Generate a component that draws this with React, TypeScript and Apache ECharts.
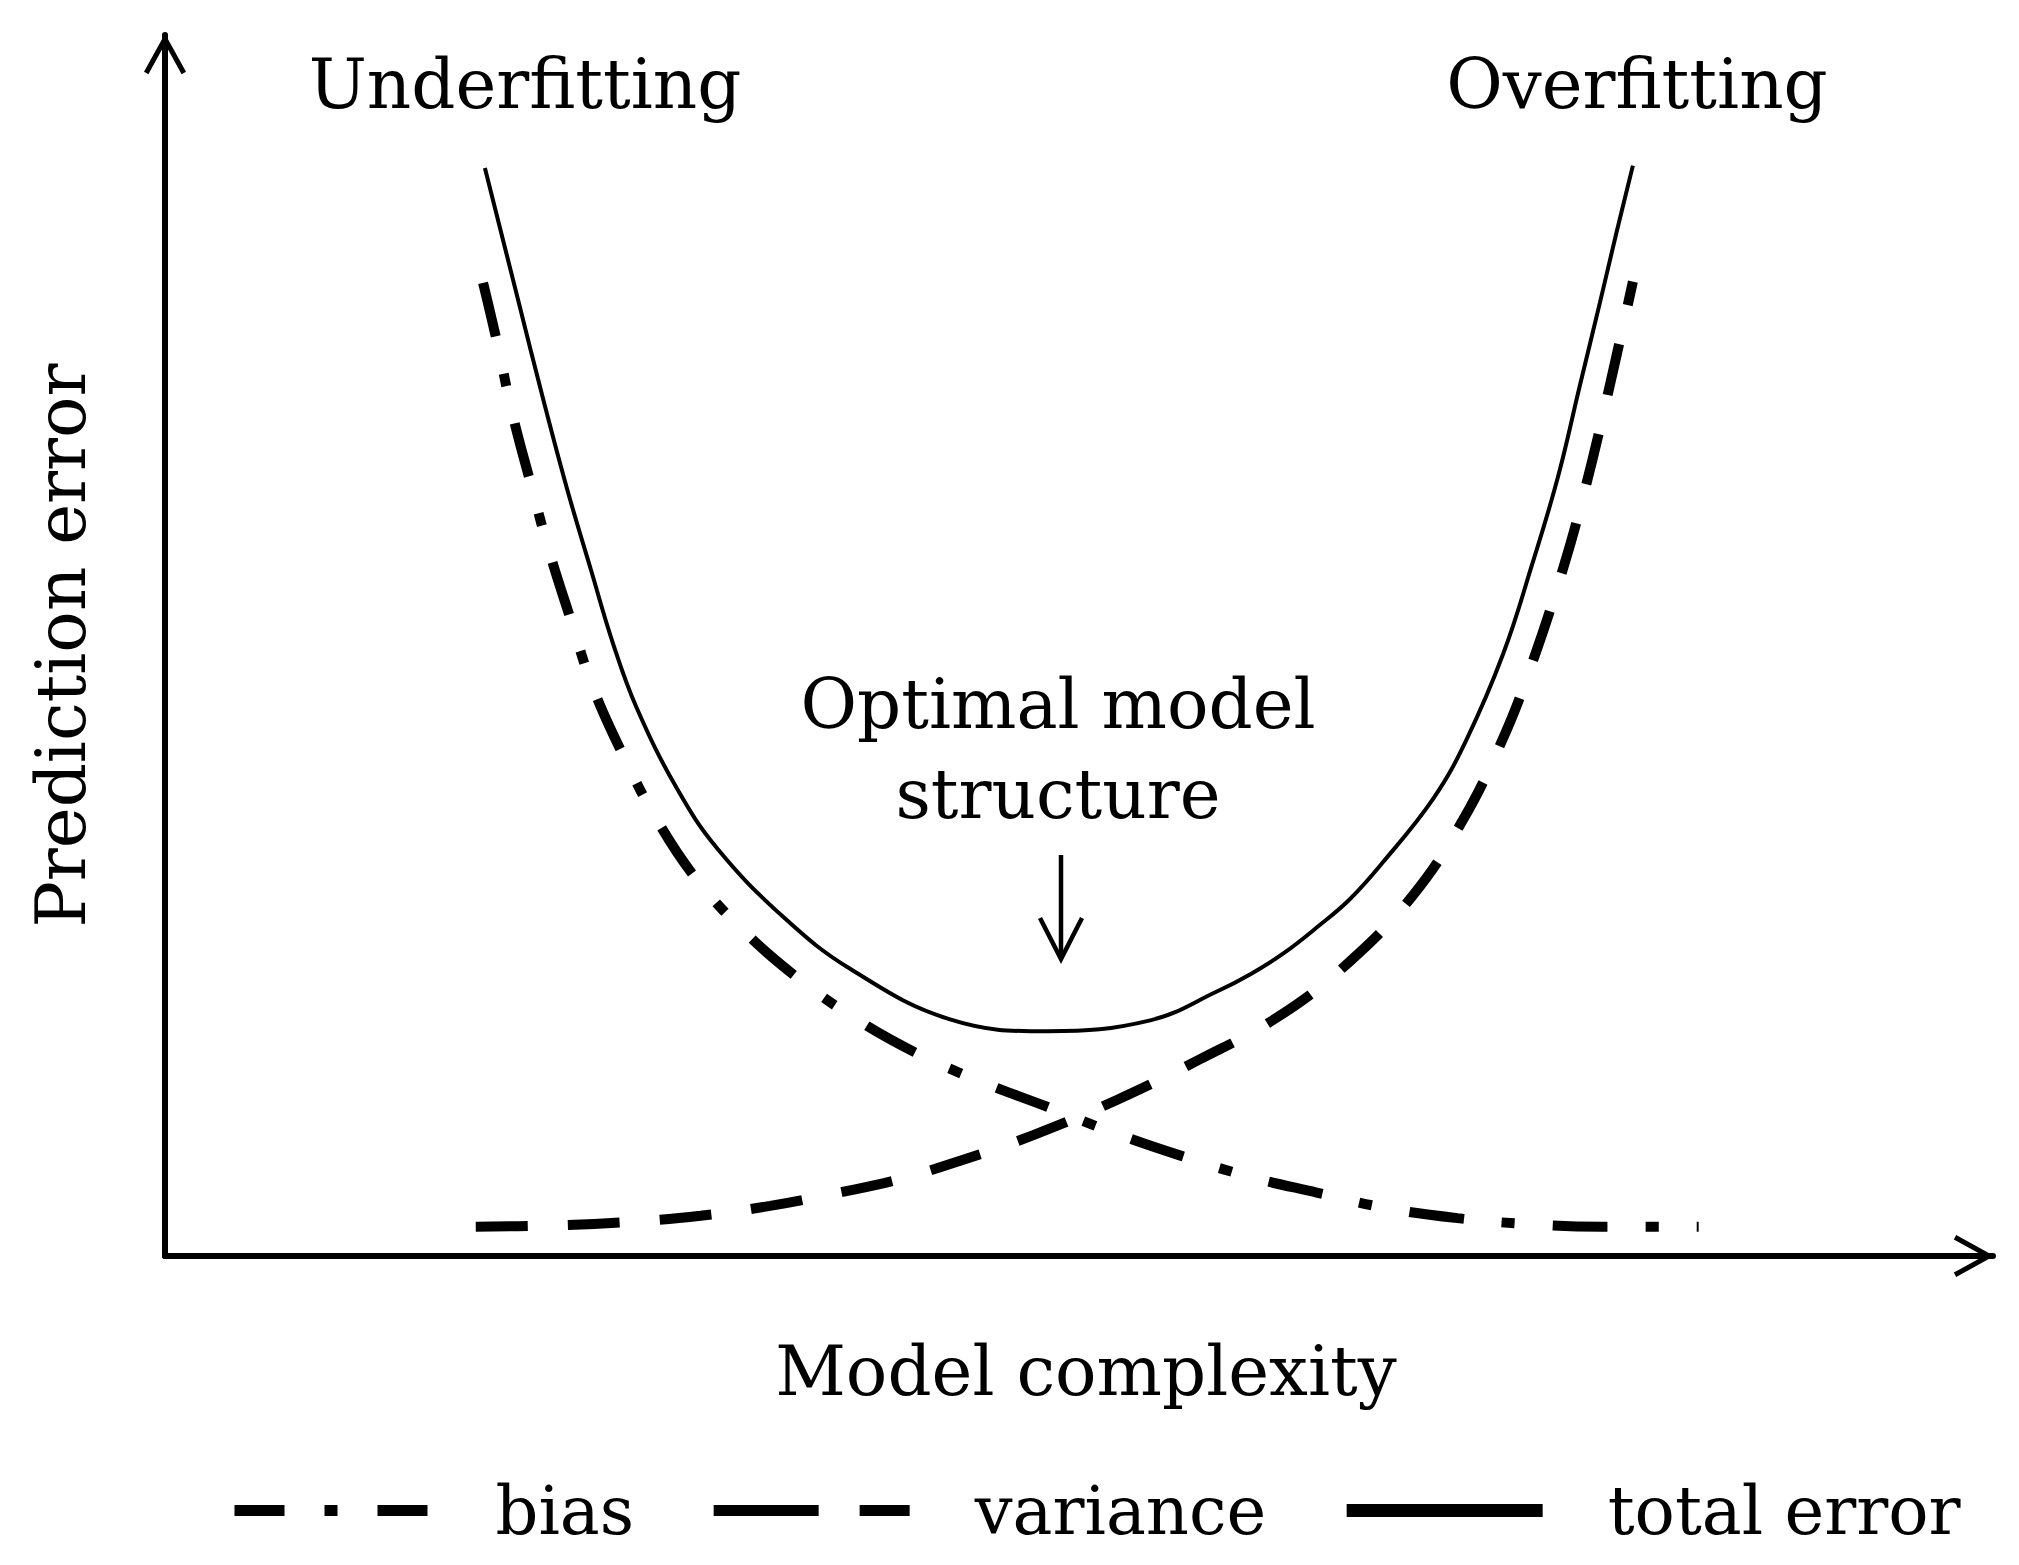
import React, { useEffect, useRef } from "react";
import * as echarts from "echarts";

// ---- data (model complexity 0..100, prediction error 0..100) ----
const totalErrorPoints: [number, number][] = [
  [17.5, 89.1], [19.3, 78.4], [20.7, 70.1], [22.0, 62.8], [23.3, 56.2], [24.5, 50.2],
  [25.8, 44.9], [28.0, 38.3], [30.2, 33.4], [33.8, 27.8], [37.5, 23.5], [42.9, 19.4],
  [48.3, 18.4], [53.9, 19.3], [57.6, 21.7], [59.4, 23.1], [61.2, 24.8], [63.0, 26.9],
  [64.8, 29.2], [66.6, 32.2], [69.4, 37.5], [71.2, 42.3], [73.2, 49.3], [74.8, 56.7],
  [76.2, 63.8], [77.4, 71.3], [78.5, 78.1], [79.4, 83.8], [80.3, 89.3],
];
const biasPoints: [number, number][] = [
  [17.4, 79.7], [18.2, 74.6], [19.0, 69.0], [20.0, 63.3], [21.0, 57.8], [22.2, 52.1],
  [23.4, 46.6], [25.0, 41.2], [26.8, 36.0], [29.0, 31.0], [31.6, 26.7], [34.5, 22.9],
  [37.6, 19.6], [41.0, 16.7], [44.6, 14.3], [48.3, 12.2], [51.9, 10.1], [55.6, 8.2],
  [59.3, 6.5], [63.0, 5.2], [66.9, 3.9], [70.7, 3.1], [74.7, 2.6], [78.6, 2.4], [83.9, 2.4],
];
const variancePoints: [number, number][] = [
  [17.0, 2.4], [21.1, 2.5], [25.4, 2.8], [29.3, 3.3], [33.1, 4.1], [36.9, 5.2],
  [40.2, 6.3], [43.5, 7.8], [47.5, 9.9], [52.1, 12.8], [56.6, 16.1], [60.9, 19.6],
  [64.8, 24.1], [68.3, 29.6], [71.0, 35.7], [73.2, 42.4], [74.8, 48.6], [76.5, 56.4],
  [77.7, 62.9], [78.9, 70.4], [80.3, 79.8],
];
const seriesNames = ["bias", "variance", "total error"];
const xAxisName = "Model complexity";
const yAxisName = "Prediction error";
const regionLabels = ["Underfitting", "Overfitting"];
const annotationLines = ["Optimal model", "structure"];

const FONT = "DejaVu Serif";
const CHEVRON = "path://M21,0 L42,38 L37.6,40.4 L21,10.3 L4.4,40.4 L0,38 Z";

const BIAS_DASH = [55, 38, 13, 38];
const VAR_DASH = [52, 40];

export default function App() {
  const ref = useRef<HTMLDivElement>(null);

  useEffect(() => {
    if (!ref.current) return;
    const chart = echarts.init(ref.current, null, { renderer: "svg" });

    const axisCommon = {
      type: "value" as const,
      min: 0,
      max: 100,
      axisTick: { show: false },
      axisLabel: { show: false },
      splitLine: { show: false },
      nameLocation: "middle" as const,
      nameTextStyle: { fontFamily: FONT, fontSize: 69, color: "#000" },
      axisLine: {
        show: true,
        onZero: false,
        symbol: ["none", CHEVRON],
        symbolSize: [42, 41],
        symbolOffset: [0, -19],
        lineStyle: { color: "#000", width: 6 },
      },
    };

    const textStyle = { fontFamily: FONT, fontSize: 69, fill: "#000" };

    chart.setOption({
      animation: false,
      backgroundColor: "#fff",
      grid: { left: 165, right: 26, top: 35, bottom: 309, containLabel: false },
      xAxis: {
        ...axisCommon,
        name: xAxisName,
        nameGap: 80,
        nameTextStyle: { ...axisCommon.nameTextStyle, padding: [0, 0, 0, 14] },
      },
      yAxis: { ...axisCommon, name: yAxisName, nameGap: 70 },
      legend: {
        left: 229,
        top: 1477,
        padding: 0,
        itemWidth: 196,
        itemHeight: 80,
        itemGap: 74,
        itemStyle: { opacity: 0 },
        textStyle: { fontFamily: FONT, fontSize: 67, color: "#000", padding: [0, 0, 0, 60] },
        data: [
          { name: seriesNames[0], itemStyle: { opacity: 0 }, lineStyle: { width: 11, type: [50, 40, 13, 40] } },
          { name: seriesNames[1], itemStyle: { opacity: 0 }, lineStyle: { width: 11, type: [105, 41] } },
          { name: seriesNames[2], itemStyle: { opacity: 0 }, lineStyle: { width: 13, type: "solid" } },
        ],
      },
      series: [
        {
          name: seriesNames[0],
          type: "line",
          data: biasPoints,
          smooth: 0.4,
          symbol: "none",
          lineStyle: { color: "#000", width: 10, type: BIAS_DASH, cap: "butt" },
          itemStyle: { color: "#000" },
        },
        {
          name: seriesNames[1],
          type: "line",
          data: variancePoints,
          smooth: 0.4,
          symbol: "none",
          lineStyle: { color: "#000", width: 10, type: VAR_DASH, cap: "butt" },
          itemStyle: { color: "#000" },
        },
        {
          name: seriesNames[2],
          type: "line",
          data: totalErrorPoints,
          smooth: 0.4,
          symbol: "none",
          lineStyle: { color: "#000", width: 4 },
          itemStyle: { color: "#000" },
        },
      ],
      graphic: [
        {
          type: "text",
          x: 525,
          y: 84,
          style: { ...textStyle, text: regionLabels[0], align: "center", verticalAlign: "middle" },
        },
        {
          type: "text",
          x: 1637,
          y: 84,
          style: { ...textStyle, text: regionLabels[1], align: "center", verticalAlign: "middle" },
        },
        {
          type: "text",
          x: 1058,
          y: 704,
          style: { ...textStyle, text: annotationLines[0], align: "center", verticalAlign: "middle" },
        },
        {
          type: "text",
          x: 1058,
          y: 794,
          style: { ...textStyle, text: annotationLines[1], align: "center", verticalAlign: "middle" },
        },
        {
          type: "line",
          shape: { x1: 1061, y1: 855, x2: 1061, y2: 956 },
          style: { stroke: "#000", lineWidth: 4.5 },
        },
        {
          type: "polyline",
          shape: { points: [[1040, 918], [1061, 959], [1082, 918]] },
          style: { stroke: "#000", lineWidth: 4.5, fill: null },
        },
      ],
    });

    return () => chart.dispose();
  }, []);

  return (
    <div
      ref={ref}
      style={{ position: "fixed", left: 0, top: 0, width: 2019, height: 1565, background: "#fff" }}
    />
  );
}
